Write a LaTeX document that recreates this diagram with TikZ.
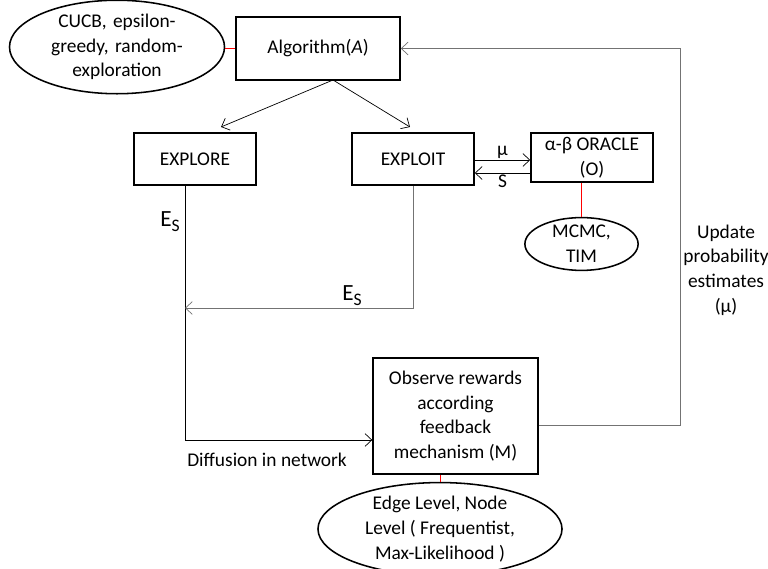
\documentclass[tikz,border=0pt]{standalone}
\usepackage{fontspec}
\setmainfont{Carlito}
\usepackage{tikz}
\usetikzlibrary{shapes.geometric}
\usetikzlibrary{arrows.meta}

\tikzset{
	block/.style={draw, line width=1.1pt, align=center, inner sep=2pt},
	blob/.style={draw, ellipse, line width=1.1pt, align=center, inner sep=0pt},
	link/.style={line width=0.5pt, >={Straight Barb[length=1.7mm, width=3.2mm]}},
	tie/.style={red, line width=0.6pt},
}

\begin{document}
\begin{tikzpicture}[x=0.025cm, y=-0.025cm, font=\fontsize{13.8}{17.6}\selectfont]
	\useasboundingbox (0,0) rectangle (768,569);
	% Boxes and ellipses:
	\node[block, minimum width=4.1cm, minimum height=1.57cm](alg) at (318, 48.5){Algorithm(\textit{A})};
	\node[blob, minimum width=5.3cm, minimum height=2.15cm, text width=3.8cm](cucb) at (117, 47){CUCB, epsilon-\\greedy, random-\\exploration};
	\node[block, minimum width=3.05cm, minimum height=1.3cm](explore) at (195, 159){EXPLORE};
	\node[block, minimum width=3.05cm, minimum height=1.3cm](exploit) at (413, 159){EXPLOIT};
	\node[block, minimum width=3.05cm, minimum height=1.23cm](oracle) at (592, 157.5){α-β ORACLE\\(O)};
	\node[blob, minimum width=2.83cm, minimum height=1.3cm](mcmc) at (581.5, 244){MCMC,\\TIM};
	\node[block, minimum width=4.12cm, minimum height=2.9cm](observe) at (455.5, 416){Observe rewards\\according\\feedback\\mechanism (M)};
	\node[blob, minimum width=6.1cm, minimum height=1.8cm](levels) at (440, 529){Edge Level, Node\\Level ( Frequentist,\\Max-Likelihood )};
	% Corners of the wires:
	\coordinate (split) at (333, 80);
	\coordinate (xl) at (185, 440);
	\coordinate (xr) at (413, 308);
	\coordinate (fb) at (680, 425);
	\coordinate (mu) at (500, 160);
	\coordinate (s) at (500, 173);
	% Wires:
	\draw[tie] (cucb.east |- alg.west) -- (alg.west);
	\draw[tie] (oracle.south -| mcmc.north) -- (mcmc.north);
	\draw[tie] (observe.south -| levels.north) -- (levels.north);
	\draw[link,->] (split) -- (221, 127);
	\draw[link,->] (split) -- (410, 127);
	\draw[link,->] (exploit.east |- mu) -- (oracle.west |- mu) node[midway, above, inner sep=1pt]{µ};
	\draw[link,->] (oracle.west |- s) -- (exploit.east |- s) node[midway, below, inner sep=1pt]{S};
	\draw[link,->] (explore.south -| xl) -- (xl) -- (observe.west |- xl);
	\draw[link,->,black!55] (exploit.south -| xr) -- (xr) -- (xl |- xr);
	\draw[link,->,black!55] (observe.east |- fb) -- (fb) |- (alg.east);
	% Labels:
	\node[font=\fontsize{16.5}{18}\selectfont](es1) at (170, 222){E\raisebox{-0.45ex}{\fontsize{12.5}{12}\selectfont S}};
	\node[font=\fontsize{16.5}{18}\selectfont](es2) at (352, 296){E\raisebox{-0.45ex}{\fontsize{12.5}{12}\selectfont S}};
	\node[anchor=west, inner sep=0pt](diff) at (187, 460){Diffusion in network};
	\node[align=center](upd) at (726, 270){Update\\probability\\estimates\\(µ)};
\end{tikzpicture}
\end{document}
